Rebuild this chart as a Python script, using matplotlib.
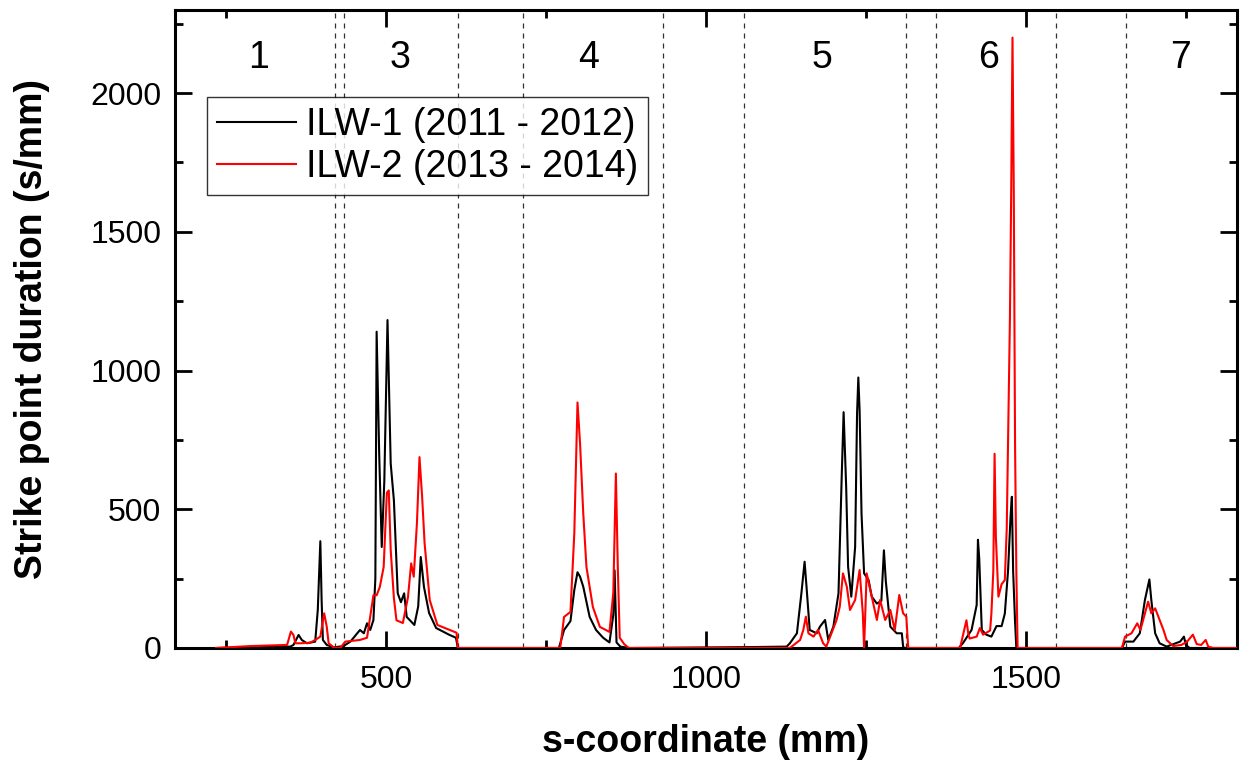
import matplotlib
matplotlib.use("Agg")
import matplotlib.pyplot as plt
from matplotlib.ticker import MultipleLocator

plt.rcParams['font.family'] = ['Liberation Sans', 'DejaVu Sans']

# ILW-1 (2011 - 2012)
s1 = [234, 300, 350, 355, 363, 368, 376, 389, 393, 397, 399, 401, 407, 418, 433, 444,
      459, 465, 470, 475, 480, 483, 485, 489, 493, 497, 502, 507, 512, 518, 523, 528,
      532, 544, 550, 554, 559, 567, 578, 599, 609, 612, 770, 778, 788, 794, 799, 803,
      808, 818, 828, 839, 849, 855, 857, 860, 866, 880, 1060, 1126, 1131, 1142, 1149,
      1154, 1157, 1162, 1173, 1178, 1186, 1191, 1199, 1207, 1212, 1215, 1219, 1222,
      1227, 1233, 1236, 1238, 1240, 1243, 1247, 1254, 1259, 1267, 1274, 1278, 1281,
      1288, 1298, 1306, 1308, 1310, 1395, 1402, 1415, 1423, 1425, 1427, 1431, 1438,
      1446, 1454, 1462, 1467, 1472, 1476, 1478, 1480, 1483, 1485, 1650, 1655, 1668,
      1678, 1686, 1693, 1696, 1702, 1709, 1720, 1741, 1747, 1750, 1756, 1830]
d1 = [0, 3, 5, 11, 47, 29, 17, 23, 137, 385, 173, 29, 11, 2, 7, 23,
      65, 53, 89, 65, 101, 250, 1140, 700, 364, 600, 1182, 665, 532, 197, 165, 197,
      112, 83, 150, 328, 220, 126, 72, 47, 37, 0, 0, 65, 97, 209, 273, 257,
      221, 112, 65, 37, 20, 120, 280, 20, 5, 0, 3, 5, 17, 53, 197,
      311, 221, 65, 53, 77, 101, 29, 77, 197, 616, 850, 580, 293,
      185, 364, 844, 975, 856, 484, 269, 245, 185, 160, 170, 352, 240,
      77, 53, 53, 5, 0, 0, 19, 65, 155, 390, 322, 65, 48,
      41, 79, 79, 124, 277, 475, 545, 277, 94, 0, 0, 23, 23,
      53, 173, 247, 173, 53, 17, 5, 23, 41, 11, 0, 0]

# ILW-2 (2013 - 2014)
s2 = [234, 288, 345, 351, 355, 358, 366, 381, 389, 397, 403, 407, 410, 418, 428, 436,
      459, 470, 480, 485, 490, 496, 501, 504, 507, 512, 516, 526, 534, 539, 543, 548,
      552, 556, 560, 568, 580, 605, 610, 612, 772, 778, 788, 794, 799, 803, 808, 813,
      823, 834, 849, 855, 859, 862, 865, 872, 879, 1131, 1147, 1152, 1156, 1160, 1168,
      1175, 1183, 1188, 1194, 1204, 1209, 1214, 1220, 1225, 1233, 1240, 1245, 1247,
      1251, 1259, 1267, 1272, 1280, 1288, 1295, 1302, 1308, 1313, 1316, 1397, 1407,
      1410, 1412, 1423, 1428, 1433, 1444, 1446, 1449, 1451, 1453, 1457, 1462, 1467,
      1470, 1472, 1475, 1477, 1479, 1481, 1483, 1485, 1487, 1650, 1655, 1665, 1674,
      1679, 1686, 1691, 1696, 1702, 1709, 1715, 1720, 1730, 1743, 1752, 1761, 1767,
      1774, 1781, 1785, 1793, 1830]
d2 = [0, 7, 11, 59, 47, 17, 17, 19, 29, 41, 125, 77, 17, 2, 0, 23,
      29, 37, 190, 190, 220, 292, 560, 568, 353, 180, 100, 90, 183, 305, 257, 450,
      688, 550, 377, 173, 83, 60, 55, 0, 0, 112, 130, 413, 885, 737, 485, 292,
      148, 76, 58, 200, 629, 292, 37, 14, 0, 0, 29, 65, 113, 53, 41,
      65, 17, 5, 41, 101, 149, 269, 221, 137, 173, 281, 125, 0,
      269, 185, 101, 173, 101, 137, 65, 191, 125, 113, 0, 0, 100,
      50, 34, 41, 72, 48, 63, 124, 277, 700, 400, 185, 230, 245,
      430, 735, 1192, 1650, 2200, 1650, 735, 277, 0, 0, 41, 53, 89,
      65, 125, 167, 125, 143, 101, 65, 29, 7, 11, 23, 48, 14,
      11, 29, 5, 0, 0]

# Bereichsgrenzen und Bereichsnummern
borders = [420, 434, 612, 714, 933, 1059, 1312, 1359, 1547, 1656]
region_pos = [300, 522, 816, 1181, 1441, 1741]
region_names = ['1', '3', '4', '5', '6', '7']

fig = plt.figure(figsize=(12.42, 7.61), dpi=100)
ax = fig.add_axes([0.141, 0.1485, 0.855, 0.8385])

for b in borders:
    ax.axvline(b, color='#333333', lw=0.9, ls=(0, (4, 4)), zorder=1)

ax.plot(s1, d1, color='black', lw=1.5, label='ILW-1 (2011 - 2012)', zorder=3)
ax.plot(s2, d2, color='red', lw=1.5, label='ILW-2 (2013 - 2014)', zorder=4)

for x, name in zip(region_pos, region_names):
    ax.text(x, 2126, name, ha='center', va='center', fontsize=27)

ax.set_xlim(170, 1830)
ax.set_ylim(0, 2300)
ax.xaxis.set_major_locator(MultipleLocator(500))
ax.xaxis.set_minor_locator(MultipleLocator(250))
ax.yaxis.set_major_locator(MultipleLocator(500))
ax.yaxis.set_minor_locator(MultipleLocator(250))
ax.tick_params(which='both', direction='in', top=True, right=True, width=2)
ax.tick_params(which='major', length=12, labelsize=23)
ax.tick_params(axis='y', which='major', pad=10)
ax.tick_params(axis='x', which='major', pad=12)
ax.tick_params(which='minor', length=6)
for sp in ax.spines.values():
    sp.set_linewidth(2.2)

ax.set_xlabel('s-coordinate (mm)', fontsize=27, fontweight='bold', labelpad=21)
ax.set_ylabel('Strike point duration (s/mm)', fontsize=27, fontweight='bold', labelpad=29)

leg = ax.legend(loc='upper left', bbox_to_anchor=(0.030, 0.864), fontsize=27,
                handlelength=2.1, handletextpad=0.25, labelspacing=0.15,
                borderpad=0.28, borderaxespad=0, frameon=True, fancybox=False)
leg.get_frame().set_edgecolor('black')
leg.get_frame().set_linewidth(1.0)

fig.savefig('out.png', dpi=100)
